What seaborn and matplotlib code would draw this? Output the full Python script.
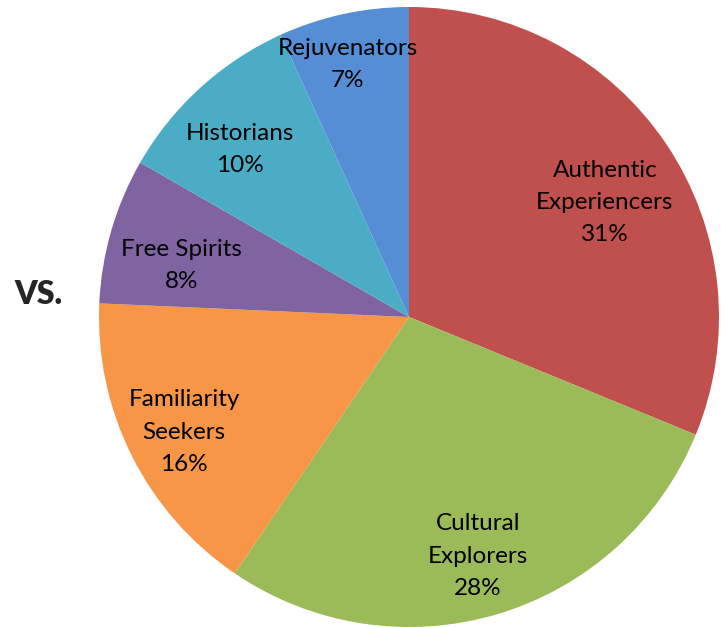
import matplotlib
matplotlib.use("Agg")
import matplotlib.pyplot as plt
import seaborn as sns

sns.set_theme(style="white")
plt.rcParams["font.family"] = ["Lato", "DejaVu Sans"]

segments = [
    "Authentic\nExperiencers",
    "Cultural\nExplorers",
    "Familiarity\nSeekers",
    "Free Spirits",
    "Historians",
    "Rejuvenators",
]
# slice sizes as measured from the wedge boundaries
shares = [31.2, 28.3, 16.2, 7.6, 9.9, 6.8]
# percentages as printed on the chart
pct_labels = [31, 28, 16, 8, 10, 7]
colours = sns.color_palette(
    ["#C0504D", "#9BBB59", "#F79646", "#8064A2", "#4BACC6", "#558ED5"]
)

labels = ["{}\n{}%".format(s, p) for s, p in zip(segments, pct_labels)]

# where excel put the data labels (in units of the pie radius)
label_pos = [
    (0.632, 0.368),
    (0.223, -0.771),
    (-0.726, -0.371),
    (-0.735, 0.165),
    (-0.545, 0.539),
    (-0.197, 0.816),
]

fig = plt.figure(figsize=(7.21, 6.27), dpi=100)
ax = fig.add_axes([99 / 721, 0.0, 620 / 721, 620 / 627])
wedges, texts = ax.pie(
    shares,
    labels=labels,
    colors=colours,
    startangle=90,
    counterclock=False,
    labeldistance=0.79,
    radius=1.0,
    wedgeprops=dict(linewidth=0),
    textprops=dict(fontsize=17.5, color="black", linespacing=1.65),
)
for t, xy in zip(texts, label_pos):
    t.set_ha("center")
    t.set_va("center")
    t.set_position(xy)
ax.set_xlim(-1, 1)
ax.set_ylim(-1, 1)
ax.set_aspect("equal")
ax.axis("off")

fig.text(38 / 721, 1 - 294 / 627, "VS.", fontsize=23, fontweight="heavy",
         ha="center", va="center")

plt.savefig("out.png", dpi=100)
